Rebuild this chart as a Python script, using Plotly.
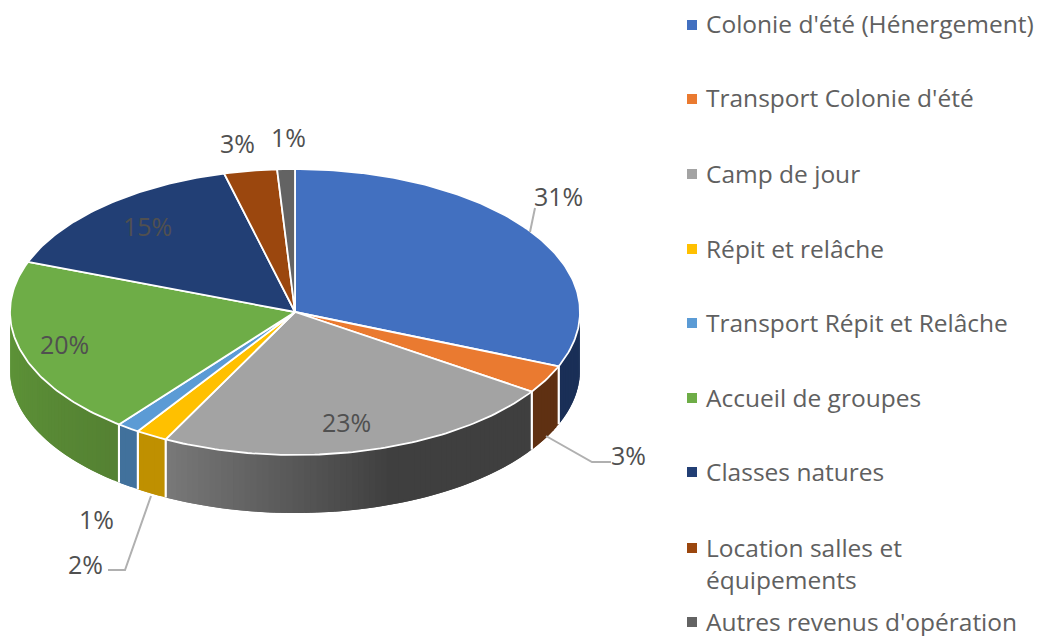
import numpy as np
import plotly.graph_objects as go

categories = ["Colonie d'été (Hénergement)", "Transport Colonie d'été", "Camp de jour",
              "Répit et relâche", "Transport Répit et Relâche", "Accueil de groupes",
              "Classes natures", "Location salles et<br>équipements", "Autres revenus d'opération"]
values = [31.2, 3.2, 23.1, 1.8, 1.3, 20.1, 15.3, 3.0, 1.0]

top_colors = ["#4270c0", "#ea7a30", "#a3a3a3", "#ffc000", "#5b9bd5", "#6ead47", "#223f75", "#9b470e", "#636363"]
wall_start = ["#1a2f57", "#5f3012", "#7b7b7b", "#bf9000", "#41719c", "#5f9639", "#1a2f57", "#5f3012", "#4a4a4a"]
wall_end = ["#1a2f57", "#5f3012", "#3f3f3f", "#bf9000", "#41719c", "#558233", "#1a2f57", "#5f3012", "#4a4a4a"]

W, H = 1039, 636
CX, CY, RX, RY, DEPTH = 295, 312, 285, 143, 58
x_range = [-CX / RX, (W - CX) / RX]
y_range = [(CY - H) / RY, CY / RY]
d = DEPTH / RY


def hex_rgb(c):
    return np.array([int(c[i:i + 2], 16) for i in (1, 3, 5)], float)


def blend(a, b, t):
    r = hex_rgb(a) * (1 - t) + hex_rgb(b) * t
    return "rgb(%d,%d,%d)" % tuple(r)


fig = go.Figure()
edges = np.cumsum([0] + values) / sum(values) * 2 * np.pi
skip = dict(hoverinfo="skip", showlegend=False, mode="lines")


def poly(xs, ys, fill, line, width):
    fig.add_trace(go.Scatter(x=xs, y=ys, fill="toself", fillcolor=fill,
                             line=dict(color=line, width=width), **skip))


# side wall, built strip by strip on the front half of the disc
front_lo, front_hi = np.pi / 2, 3 * np.pi / 2
for i in range(len(values)):
    a0, a1 = max(edges[i], front_lo), min(edges[i + 1], front_hi)
    if a1 <= a0:
        continue
    n = max(1, int((a1 - a0) / np.radians(1.2)))
    steps = np.linspace(a0, a1, n + 1)
    for k in range(n - 1, -1, -1):
        t = (k + 0.5) / n
        col_t = 1 - t
        if i == 2:
            col_t = min(1, (1 - t) / 0.58)
        c = blend(wall_start[i], wall_end[i], col_t)
        # each strip runs under its neighbour so no seam shows between them
        arc = np.linspace(steps[k], steps[min(k + 2, n)], 4)
        xs, ys = np.sin(arc), np.cos(arc)
        poly(np.r_[xs, xs[::-1], xs[0]], np.r_[ys, ys[::-1] - d, ys[0]], c, c, 0)
    for a in (a0, a1):
        if front_lo < a < front_hi:
            fig.add_trace(go.Scatter(x=[np.sin(a)] * 2, y=[np.cos(a), np.cos(a) - d],
                                     line=dict(color="white", width=2), **skip))

# top face
for i in range(len(values)):
    arc = np.linspace(edges[i], edges[i + 1], max(4, int((edges[i + 1] - edges[i]) * 60)))
    poly(np.r_[0, np.sin(arc), 0], np.r_[0, np.cos(arc), 0], top_colors[i], "white", 1.8)

layout_shapes = []
# leader lines (paper pixels)
leaders = [[(530, 232), (535, 208)], [(546, 436), (592, 462), (611, 462)], [(151, 496), (125, 570), (108, 570)]]
for pts in leaders:
    path = "M " + " L ".join(f"{x / W} {1 - y / H}" for x, y in pts)
    layout_shapes.append(dict(type="path", xref="paper", yref="paper", path=path,
                              line=dict(color="#b0b0b0", width=2)))

annotations = []
FONT = "Open Sans"
label_pos = [(558, 196), (628, 455), (346, 422), (85, 564), (96, 519), (64, 344), (147, 226), (237, 143), (288, 137)]
for v, (x, y) in zip(values, label_pos):
    annotations.append(dict(text=f"{round(v)}%", x=x / W, y=1 - y / H, xref="paper", yref="paper",
                            showarrow=False, xanchor="center", yanchor="middle",
                            font=dict(family=FONT, size=25, color="#505050")))

legend_y = [24, 98, 173, 248, 322, 397, 471, 563, 621]
square_y = [25, 99, 174, 249, 323, 398, 472, 548, 622]
for name, c, y, sy in zip(categories, top_colors, legend_y, square_y):
    annotations.append(dict(text=name, x=704 / W, y=1 - y / H, xref="paper", yref="paper",
                            showarrow=False, xanchor="left", yanchor="middle", align="left",
                            font=dict(family=FONT, size=24.5, color="#606060")))
    layout_shapes.append(dict(type="rect", xref="paper", yref="paper", x0=687 / W, x1=697 / W,
                              y0=1 - (sy + 5) / H, y1=1 - (sy - 5) / H, fillcolor=c, line=dict(width=0)))

fig.update_layout(width=W, height=H, margin=dict(l=0, r=0, t=0, b=0), paper_bgcolor="white",
                  plot_bgcolor="white", showlegend=False, shapes=layout_shapes, annotations=annotations,
                  xaxis=dict(range=x_range, visible=False, fixedrange=True),
                  yaxis=dict(range=y_range, visible=False, fixedrange=True))
fig.write_html("out.html", config={"displayModeBar": False},
               post_script="document.body.style.margin='0';document.body.style.overflow='hidden';")
